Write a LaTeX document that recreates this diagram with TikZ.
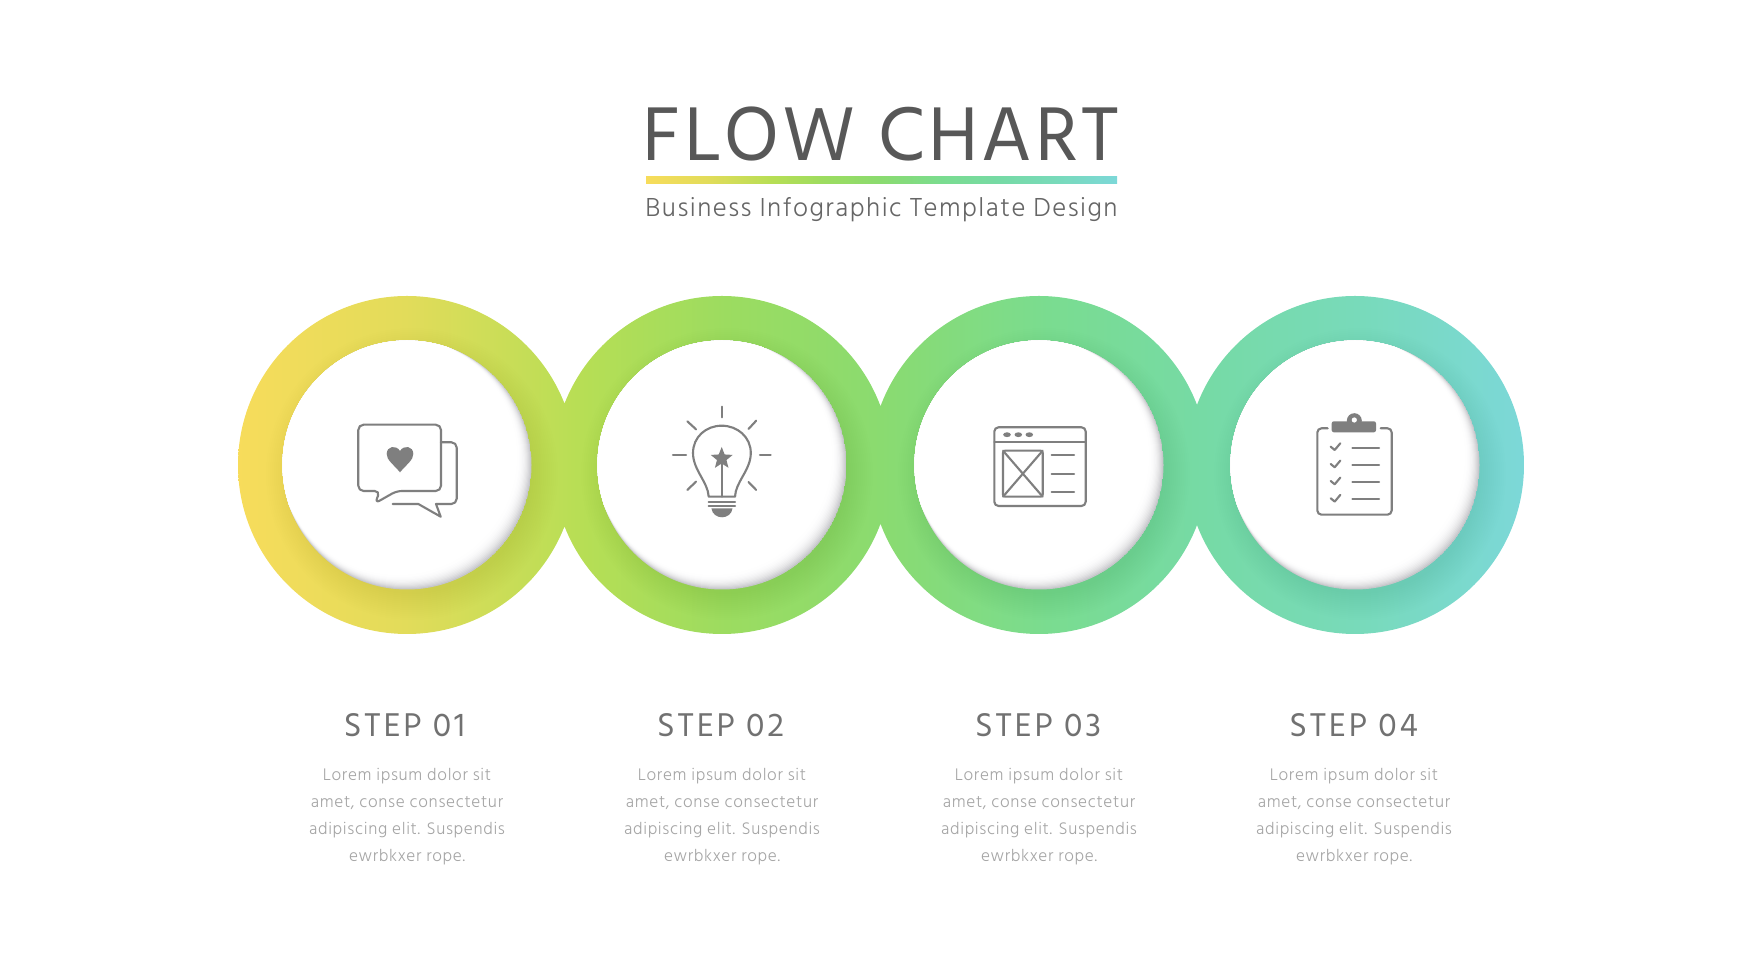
\documentclass[tikz,border=0pt]{standalone}
\usepackage{fontspec}
\usepackage{xcolor}
\setmainfont{Hind Madurai}
\newfontfamily\titlefont{Hind Madurai}[LetterSpace=4.2]
\newfontfamily\subfont{Hind Madurai}[UprightFont=* Light,LetterSpace=5.6]
\newfontfamily\stepfont{Hind Madurai}[LetterSpace=8.5]
\newfontfamily\bodyfont{Hind Madurai}[UprightFont=* Light,LetterSpace=3.8]
\usetikzlibrary{shapes.geometric}

\definecolor{titlegray}{HTML}{585858}
\definecolor{subgray}{HTML}{666666}
\definecolor{stepgray}{HTML}{717171}
\definecolor{bodygray}{HTML}{A6A6A6}
\definecolor{icongray}{HTML}{7F7F7F}
\definecolor{rimgray}{HTML}{C6C6CA}
\definecolor{flowa}{HTML}{F7DC5B}
\definecolor{flowb}{HTML}{E2DC5A}
\definecolor{flowc}{HTML}{B6DE55}
\definecolor{flowd}{HTML}{9CDC60}
\definecolor{flowe}{HTML}{8ADB70}
\definecolor{flowf}{HTML}{7ADC90}
\definecolor{flowg}{HTML}{76DAA5}
\definecolor{flowh}{HTML}{78DABA}
\definecolor{flowi}{HTML}{7CD8D8}

\pgfdeclarehorizontalshading{ringflow}{100bp}{
  color(0bp)=(flowa);
  color(25bp)=(flowa);
  color(31.5bp)=(flowb);
  color(38.5bp)=(flowc);
  color(44bp)=(flowd);
  color(50bp)=(flowe);
  color(56.5bp)=(flowf);
  color(62.5bp)=(flowg);
  color(68.5bp)=(flowh);
  color(75bp)=(flowi);
  color(100bp)=(flowi)}

\tikzset{
  iconline/.style={draw=icongray,line width=0.6pt,line join=round,line cap=round},
  iconfill/.style={fill=icongray,draw=none},
  titletext/.style={font=\titlefont\fontsize{22.2}{26}\selectfont,text=titlegray,inner sep=0pt,anchor=base},
  subtext/.style={font=\subfont\fontsize{7.6}{9}\selectfont,text=subgray,inner sep=0pt,anchor=base},
  steptext/.style={font=\stepfont\fontsize{9.6}{12}\selectfont,text=stepgray,inner sep=0pt,anchor=base},
  bodytext/.style={font=\bodyfont\fontsize{4.9}{7.72}\selectfont,text=bodygray,inner sep=0pt,align=center}
}

\begin{document}
\begin{tikzpicture}[x=0.01cm,y=-0.01cm]
\useasboundingbox (0,0) rectangle (1763,980);

\node[titletext] (title) at (881,160.5) {FLOW CHART};
\shade[shading=ringflow] (646,176.7) rectangle (1117,184);
\node[subtext] (subtitle) at (881.5,217) {Business Infographic Template Design};

\shade[shading=ringflow] (407,465) circle[radius=169] (722,465) circle[radius=169]
  (1039,465) circle[radius=169] (1355,465) circle[radius=169];

\foreach \cx in {407,722,1039,1355} {
  \foreach \r in {120,122,...,146}
    \fill[black,opacity=0.0042] (\cx+5,465+9) circle[radius=\r];
}

\foreach \cx in {407,722,1039,1355} {
  \begin{scope}
  \clip (\cx,465) circle[radius=124.5];
  \fill[rimgray] (\cx,465) circle[radius=124.5];
  \foreach \k in {1,...,14} {
    \pgfmathsetmacro{\mixp}{100*(1-\k/14)^2.5}
    \fill[rimgray!\mixp!white] (\cx-0.7*\k,465-0.7*\k) circle[radius=124.5-0.4*\k];
  }
  \end{scope}
}

\draw[iconline,rounded corners=1.5pt] (396.7,491) -- (375,503.3) -- (380,491) -- (358.3,491)
  -- (358.3,424.7) -- (441,424.7) -- (441,491) -- cycle;
\draw[iconline,rounded corners=1.5pt] (441,442.3) -- (456.7,442.3) -- (456.7,504) -- (436,504);
\draw[iconline] (436,504) -- (440.7,516.7) -- (418.3,504) -- (392.7,504);
\fill[iconfill] (400,472.3) .. controls (393,464) and (386.7,460) .. (386.7,454)
  .. controls (386.7,446) and (396,444.5) .. (400,451)
  .. controls (404,444.5) and (413.3,446) .. (413.3,454)
  .. controls (413.3,460) and (407,464) .. (400,472.3);

\draw[iconline] (708.7,496.7) .. controls (708,482) and (693,470) .. (693,453)
  .. controls (693,437) and (706,425.7) .. (721.7,425.7)
  .. controls (737.4,425.7) and (750.8,437) .. (750.8,453)
  .. controls (750.8,470) and (735.5,482) .. (735,496.7) -- cycle;
\draw[iconline] (708.7,501.7) -- (735,501.7);
\draw[iconline] (708.7,505.7) -- (735,505.7);
\fill[iconfill] (711.4,508.3) -- (732.5,508.3) .. controls (732,514) and (727,517.3) .. (722,517.3)
  .. controls (717,517.3) and (712,514) .. (711.4,508.3) -- cycle;
\node[star,star points=5,star point ratio=2.3,iconfill,inner sep=0pt,minimum size=0.23cm] (bulbstar) at (721.7,458.5) {};
\draw[iconline] (bulbstar.center) -- (721.7,496.7);
\draw[iconline] (721.7,406.7) -- (721.7,417.3);
\draw[iconline] (673,455.3) -- (686,455.3);
\draw[iconline] (760,455.3) -- (770.7,455.3);
\draw[iconline] (687.3,421.3) -- (696,429.3);
\draw[iconline] (756.2,420.7) -- (748.5,429);
\draw[iconline] (687.3,490) -- (696,481.7);
\draw[iconline] (756.2,490) -- (748.5,482);

\draw[iconline,rounded corners=1.2pt] (994.3,427.3) rectangle (1085.7,506);
\draw[iconline] (994.3,441.7) -- (1085.7,441.7);
\fill[iconfill] (1007,434.7) ellipse[x radius=3.8,y radius=2.4];
\fill[iconfill] (1018.3,434.7) ellipse[x radius=3.8,y radius=2.4];
\fill[iconfill] (1029.3,434.7) ellipse[x radius=3.8,y radius=2.4];
\draw[iconline,rounded corners=0.6pt] (1003,450.7) rectangle (1042.7,496.7);
\draw[iconline] (1003,450.7) -- (1042.7,496.7);
\draw[iconline] (1042.7,450.7) -- (1003,496.7);
\draw[iconline] (1051.7,455.3) -- (1074,455.3);
\draw[iconline] (1051.7,473.7) -- (1074,473.7);
\draw[iconline] (1051.7,492) -- (1074,492);

\draw[iconline,rounded corners=1.2pt] (1327.7,428.3) -- (1317.3,428.3) -- (1317.3,514.7)
  -- (1391.7,514.7) -- (1391.7,428.3) -- (1380.7,428.3);
\fill[iconfill,rounded corners=0.6pt] (1331.7,421.3) rectangle (1376,432.3);
\fill[iconfill] (1354.3,420.7) circle[radius=7.5];
\fill[white] (1354.3,420) circle[radius=2.6];
\draw[iconline] (1330.7,446.7) -- (1334.7,450) -- (1340.3,443.3);
\draw[iconline] (1330.7,464) -- (1334.7,467.3) -- (1340.3,460.6);
\draw[iconline] (1330.7,481) -- (1334.7,484.3) -- (1340.3,477.6);
\draw[iconline] (1330.7,498.3) -- (1334.7,501.6) -- (1340.3,494.9);
\draw[iconline] (1352.3,447.7) -- (1379,447.7);
\draw[iconline] (1352.3,465) -- (1379,465);
\draw[iconline] (1352.3,482) -- (1379,482);
\draw[iconline] (1352.3,499) -- (1379,499);

\node[steptext] (stepone) at (404.5,737) {STEP 01};
\node[steptext] (steptwo) at (720.5,737) {STEP 02};
\node[steptext] (stepthree) at (1038,737) {STEP 03};
\node[steptext] (stepfour) at (1353.5,737) {STEP 04};

\node[bodytext] (bodyone) at (407,816.5) {Lorem ipsum dolor sit\\amet, conse consectetur\\adipiscing elit. Suspendis\\ewrbkxer rope.};
\node[bodytext] (bodytwo) at (722,816.5) {Lorem ipsum dolor sit\\amet, conse consectetur\\adipiscing elit. Suspendis\\ewrbkxer rope.};
\node[bodytext] (bodythree) at (1039,816.5) {Lorem ipsum dolor sit\\amet, conse consectetur\\adipiscing elit. Suspendis\\ewrbkxer rope.};
\node[bodytext] (bodyfour) at (1354,816.5) {Lorem ipsum dolor sit\\amet, conse consectetur\\adipiscing elit. Suspendis\\ewrbkxer rope.};

\end{tikzpicture}
\end{document}
